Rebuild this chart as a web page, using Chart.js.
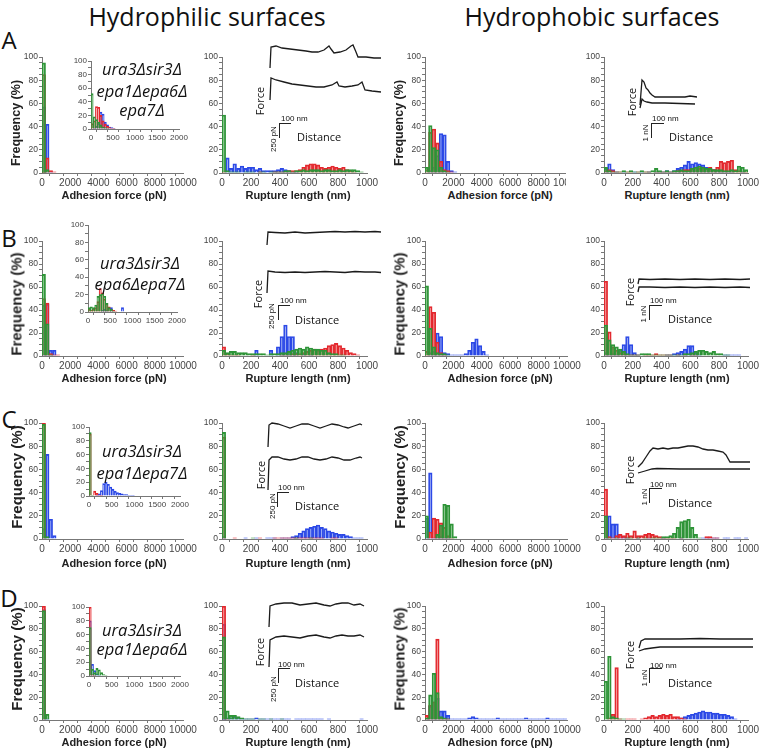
<!DOCTYPE html>
<html>
<head>
<meta charset="utf-8">
<script src="https://cdn.jsdelivr.net/npm/chart.js@4.4.0/dist/chart.umd.min.js"></script>
<style>
  body { margin: 0; width: 760px; height: 750px; position: relative; overflow: hidden; background: #fff; }
  canvas { position: absolute; }
  .txt { position: absolute; white-space: nowrap; color: #111; line-height: 1; }
  .head { font: 25px "Open Sans", sans-serif; }
  .letter { font: 24px "Open Sans", sans-serif; }
  .freq { font-family: "Liberation Sans", Arial, sans-serif; font-weight: bold; color: #222; }
  .xtitle { font: bold 11px "Liberation Sans", Arial, sans-serif; color: #222; }
  .strain { font: italic 16.5px "Open Sans", sans-serif; }
  .small { font: 11px "Open Sans", sans-serif; }
  .tiny { font: 8px "Liberation Sans", Arial, sans-serif; }
  .bar { position: absolute; border-left: 1.3px solid #222; border-top: 1.3px solid #222; }
</style>
</head>
<body>
<script>
// ---- tick labels and bins ----
const adhTickLabels = [0, 2000, 4000, 6000, 8000, 10000];
const rupTickLabels = [0, 200, 400, 600, 800, 1000];
const insetTickLabels = [0, 500, 1000, 1500, 2000];
const freqTickLabels = [0, 20, 40, 60, 80, 100];
const ADH_BIN = 250, RUP_BIN = 25, INSET_BIN = 50;

// ---- row A: ura3Δsir3Δ epa1Δepa6Δ epa7Δ ----
const aPhilAdhRed = [85, 13, 2, 1];
const aPhilAdhGreen = [95, 3];
const aPhilAdhBlue = [57, 42, 1];
const aInsRed = [8, 12, 33, 32, 20, 12, 7, 4, 2, 1, 1];
const aInsGreen = [52, 18, 14, 10, 6, 3, 2, 1];
const aInsBlue = [0, 1, 4, 8, 25, 22, 10, 6, 3, 2, 1];
const aPhilRupRed = [1,0,0,0,0,0,0,0,0,0,1,0,0,0,1,1,1,1,2,2,2,3,5,7,8,8,7,5,4,5,6,5,4,5,3,2,1,0,0,0];
const aPhilRupGreen = [50,2,1,1,1,0,1,1,1,0,1,1,0,1,1,1,1,2,2,1,2,2,3,2,3,3,3,2,3,3,2,2,3,2,3,3,3,2,1,0];
const aPhilRupBlue = [0,13,4,8,4,6,4,5,5,3,4,2,2,2,2,3,4,3,2,1,1];
const aPhobAdhRed = [3, 35, 38, 26, 10, 3, 2, 1];
const aPhobAdhGreen = [5, 41, 22, 20, 5, 2, 1];
const aPhobAdhBlue = [0, 2, 5, 15, 34, 33, 10, 2, 1];
const aPhobRupRed = [2,3,2,1,1,0,1,1,0,1,0,1,1,0,1,1,1,1,1,1,2,2,3,3,4,5,4,5,4,5,3,5,10,9,10,11,3,2,1,1];
const aPhobRupGreen = [5,2,1,1,1,2,1,2,1,1,2,1,1,2,4,2,1,2,1,2,2,3,2,2,4,5,6,5,4,4,3,3,3,2,2,3,2,6,5,3];
const aPhobRupBlue = [4,8,3,1,0,1,0,0,1,0,1,0,1,0,1,1,1,2,1,2,4,5,7,10,8,9,8,7,5,4,3,2,1,1,1,1,0,0,1,0];

// ---- row B: ura3Δsir3Δ epa6Δepa7Δ ----
const bPhilAdhRed = [50, 46, 2, 1, 1];
const bPhilAdhGreen = [71, 28, 1];
const bPhilAdhBlue = [44, 45, 5, 5];
const bInsRed = [3, 2, 3, 5, 12, 27, 22, 15, 10, 6, 3, 2, 1];
const bInsGreen = [5, 6, 5, 8, 18, 20, 21, 18, 10, 5, 3, 1];
const bInsBlue = [0, 0, 0, 0, 0, 0, 2, 3, 2, 0, 5, 0, 0, 0, 0, 5];
const bPhilRupRed = [8,2,1,1,1,0,0,0,1,0,0,0,0,0,0,0,1,1,1,2,2,2,3,4,5,6,5,6,7,9,10,11,9,7,5,3,2,1,0,0];
const bPhilRupGreen = [5,3,4,4,3,3,3,2,2,2,2,2,1,2,2,2,3,3,4,5,6,7,6,8,7,6,6,5,5,3,2,2,1,1];
const bPhilRupBlue = [0,0,0,0,0,0,0,0,0,5,0,0,0,5,0,8,17,27,17,17,3,0,2,0,1];
const bPhobAdhRed = [4, 43, 38, 12, 3, 1];
const bPhobAdhGreen = [61, 24, 8, 3, 2, 2, 1];
const bPhobAdhBlue = [0,3,4,20,17,3,2,1,1,1,1,2,5,12,15,9,4,1];
const bPhobRupRed = [65,21,8,5,3,2,1,1,1,1,0,1,1,1,2,1,1,1,1,0,1,0,1,0,1,1];
const bPhobRupGreen = [27,14,10,8,6,4,2,1,1,1,2,2,2,1,1,1,1,1,1,1,1,1,2,2,3,4,5,5,4,3,4,2,2,1,1];
const bPhobRupBlue = [3,1,2,1,5,10,17,10,3,1,0,0,0,0,0,0,0,1,1,2,3,4,6,9,9,3,1,0,0,0,0,0,0,1,1,1,1,1];

// ---- row C: ura3Δsir3Δ epa1Δepa7Δ ----
const cPhilAdhRed = [100];
const cPhilAdhGreen = [99, 2];
const cPhilAdhBlue = [9, 73, 17, 3];
const cInsRed = [90, 0, 7, 4, 1, 1];
const cInsGreen = [92, 1];
const cInsBlue = [0,0,0,1,3,8,18,20,17,13,10,7,5,4,3,2,2,1,1,1];
const cPhilRupRed = [88,0,0,1,0,0,0,0,0,0,1,0,0,0,1,1,1,1,1,1,1,1,1,1,1,1,1,1,0,0,1,1];
const cPhilRupGreen = [92,0,0,0,0,0,0,0,1,0,0,0,0,0,0,0,0,0,0,0,1,0,0,0,1];
const cPhilRupBlue = [2,0,0,0,0,0,1,0,0,1,0,0,1,1,1,0,1,1,1,2,3,5,7,9,10,11,12,10,9,7,6,5,4,4,3,2,1,1,1,0];
const cPhobAdhRed = [0, 6, 18, 17, 14, 10, 3, 1];
const cPhobAdhGreen = [20, 0, 0, 4, 12, 30, 29, 13, 2];
const cPhobAdhBlue = [18, 57, 1, 4, 2, 1, 1];
const cPhobRupRed = [43,2,1,3,4,3,5,3,7,3,3,4,5,4,3,2,1,1,1,1,0,1,0,0,0,0,0,0,2,2,1,1];
const cPhobRupGreen = [20,1,0,1,0,0,1,1,0,1,0,1,0,1,1,1,2,2,3,5,10,15,16,17,10,4,1];
const cPhobRupBlue = [20,20,13,13,4,2,1,0,0,1,0,0,1,0,0,0,1,0,0,0,0,1,0,0,0,0,0,1,1,1,1,1,0,1,1,0,1,1,0,1];

// ---- row D: ura3Δsir3Δ epa1Δepa6Δ ----
const dPhilAdhRed = [100];
const dPhilAdhGreen = [96, 5];
const dPhilAdhBlue = [97, 1];
const dInsRed = [100, 2, 1];
const dInsGreen = [70, 10, 5, 11, 9, 5, 2, 1];
const dInsBlue = [80, 17, 8, 3, 1];
const dPhilRupRed = [100, 1];
const dPhilRupGreen = [73,8,4,4,3,2,1,1,1,0,1,1,0,1,0,0,1];
const dPhilRupBlue = [84,2,2,3,2,1,1,1,1,2,1,1,1,1,1,1,1,1,1,0,1,1,1,1,1,1,1,1,0,1,0,0,0,0,0,0,0,0,1];
const dPhobAdhRed = [4, 13, 16, 71, 2, 1, 1];
const dPhobAdhGreen = [2, 22, 41, 24, 3, 2, 1];
const dPhobAdhBlue = [1,12,16,19,8,8,4,1,1,1,1,1,2,3,2,1,1,1,1,1,2,1,1,1,1,1,1,1,2,1,1,1,1,1,2,1,1,1,1,1];
const dPhobRupRed = [0,2,5,46,1,0,1,1,1,0,1,2,3,4,3,4,5,4,5,3,3,2,1];
const dPhobRupGreen = [34, 56, 3, 2, 1, 1];
const dPhobRupBlue = [0,0,0,0,0,0,0,0,0,0,0,0,0,0,0,0,0,0,0,0,1,2,3,4,5,6,7,8,7,7,6,6,5,5,4,3,1];

// ---- force-distance traces: [distance nm, force pN] ----
const aPhilTraceTop = [[40,740],[50,1160],[100,1180],[160,1140],[240,1120],[320,1100],[400,1080],[460,1060],[520,1060],[580,1100],[630,1180],[650,1120],[680,1040],[740,1060],[800,1100],[850,1180],[870,1200],[900,1060],[920,960],[1000,960],[1080,940],[1150,940]];
const aPhilTraceLow = [[40,100],[50,540],[100,500],[180,460],[260,420],[340,400],[420,380],[500,360],[580,360],[660,400],[710,460],[730,380],[790,360],[860,380],[920,400],[960,460],[990,300],[1060,280],[1150,260]];
const bPhilTraceTop = [[30,1100],[40,1360],[110,1350],[210,1340],[310,1360],[410,1340],[510,1350],[610,1360],[710,1370],[810,1360],[910,1370],[1010,1360],[1110,1370],[1170,1360]];
const bPhilTraceLow = [[30,140],[40,580],[110,560],[210,550],[310,560],[410,550],[510,560],[610,570],[710,560],[810,550],[910,570],[1010,560],[1110,560],[1170,550]];
const cPhilTraceTop = [[40,1360],[50,1800],[80,1840],[140,1820],[200,1780],[260,1740],[320,1780],[380,1820],[440,1820],[500,1780],[560,1740],[620,1780],[680,1820],[740,1800],[800,1760],[840,1740],[900,1780],[960,1820],[980,1800]];
const cPhilTraceLow = [[40,500],[50,1100],[80,1160],[140,1160],[200,1120],[260,1100],[320,1120],[380,1160],[440,1160],[500,1120],[560,1100],[620,1120],[680,1160],[740,1140],[800,1100],[860,1100],[920,1140],[960,1160],[980,1140]];
const dPhilTraceTop = [[50,960],[60,1380],[120,1420],[200,1440],[280,1440],[360,1400],[440,1420],[520,1440],[600,1400],[660,1380],[720,1420],[780,1440],[840,1440],[900,1400],[960,1420],[1000,1380]];
const dPhilTraceLow = [[50,160],[60,700],[120,760],[200,780],[280,760],[360,740],[440,780],[520,800],[600,760],[660,740],[720,780],[780,800],[840,780],[900,780],[960,800],[1000,760]];
const aPhobTraceTop = [[40,700],[60,2450],[80,2310],[100,1890],[120,1750],[140,1540],[160,1400],[190,1260],[290,1260],[390,1260],[490,1260],[540,1330],[610,1260]];
const aPhobTraceLow = [[40,490],[60,1120],[80,980],[110,910],[160,840],[290,840],[440,805],[590,770]];
const bPhobTraceTop = [[20,1120],[30,1470],[140,1435],[290,1470],[440,1435],[590,1470],[740,1435],[890,1470],[1040,1435],[1140,1470]];
const bPhobTraceLow = [[20,560],[30,910],[140,910],[290,875],[440,910],[590,875],[740,910],[890,875],[1040,910],[1140,875]];
const cPhobTraceTop = [[20,910],[60,1190],[100,1610],[140,2030],[170,2240],[220,2170],[270,2240],[320,2170],[370,2240],[420,2240],[470,2310],[520,2380],[570,2380],[620,2310],[670,2170],[720,2100],[770,2100],[820,2030],[870,1960],[900,1750],[940,1260],[1040,1260],[1140,1260]];
const cPhobTraceLow = [[20,490],[90,630],[160,770],[210,805],[440,770],[640,770],[1140,770]];
const dPhobTraceTop = [[30,840],[50,1330],[90,1470],[240,1470],[440,1470],[640,1505],[840,1470],[1040,1470],[1170,1470]];
const dPhobTraceLow = [[30,630],[90,770],[160,840],[240,910],[640,910],[1170,910]];

// ---- layout ----
const COLS = [{l: 42, r: 183}, {l: 222, r: 367}, {l: 425, r: 567}, {l: 604, r: 748}];
const ROWS = [{t: 57, b: 173}, {t: 241, b: 356}, {t: 423, b: 539}, {t: 606, b: 720}];
const INSETS = [{l: 91, r: 179, t: 61, b: 129}, {l: 88, r: 177, t: 225, b: 312},
                {l: 89, r: 180, t: 427, b: 496}, {l: 89, r: 180, t: 607, b: 676}];

const RED = '#e3262c', GREEN = '#2d9337', BLUE = '#2a47e6';
const RED_FILL = 'rgba(240,120,120,0.2)', GREEN_FILL = 'rgba(90,180,90,0.2)', BLUE_FILL = 'rgba(110,140,240,0.2)';
Chart.defaults.font.family = '"Liberation Sans", Arial, sans-serif';

function hist(box, xMax, bin, xStep, xLabels, red, green, blue, opt = {}) {
  const padL = opt.padL || 32, padT = 6, padR = opt.padR || 17, padB = opt.padB || 15;
  const w = box.r - box.l, h = box.b - box.t;
  const cv = document.createElement('canvas');
  cv.width = w + padL + padR;
  cv.height = h + padT + padB;
  cv.style.left = (box.l - padL) + 'px';
  cv.style.top = (box.t - padT) + 'px';
  (opt.parent || document.body).appendChild(cv);
  const pts = arr => arr.map((v, i) => ({x: (i + 0.5) * bin, y: v || null}));
  const ds = (arr, line, fill, order) => ({data: pts(arr), borderColor: line, backgroundColor: fill, borderWidth: 1.2, order});
  const axisColor = '#777';
  new Chart(cv, {
    type: 'bar',
    data: {datasets: [ds(red, RED, RED_FILL, 1), ds(green, GREEN, GREEN_FILL, 0), ds(blue, BLUE, BLUE_FILL, 2)]},
    options: {
      responsive: false, animation: false, events: [],
      layout: {padding: {left: 0, top: padT, right: padR, bottom: 0}},
      plugins: {legend: {display: false}, tooltip: {enabled: false}},
      datasets: {bar: {grouped: false, barPercentage: 1, categoryPercentage: 1}},
      scales: {
        x: {
          type: 'linear', min: 0, max: xMax, offset: false,
          grid: {drawOnChartArea: false, tickLength: 3, color: axisColor},
          border: {color: axisColor},
          ticks: {stepSize: xStep, autoSkip: false, maxRotation: 0, padding: 1,
                  font: {size: opt.xFont || 10}, color: '#444',
                  callback: v => xLabels.includes(v) ? v : ''},
          afterFit: s => { s.height = padB; }
        },
        y: {
          min: 0, max: 100,
          grid: {drawOnChartArea: false, tickLength: 3, color: axisColor},
          border: {color: axisColor},
          ticks: {stepSize: opt.yStep || 5, autoSkip: false, padding: 1,
                  font: {size: opt.yFont || 8.5}, color: '#444',
                  callback: v => freqTickLabels.includes(v) ? v : ''},
          afterFit: s => { s.width = padL; }
        }
      }
    }
  });
}

function forceCurve(box, nmPerPx, pNPerPx, traces) {
  const w = box.r - box.l, h = box.b - box.t;
  const cv = document.createElement('canvas');
  cv.width = w; cv.height = h;
  cv.style.left = box.l + 'px'; cv.style.top = box.t + 'px';
  document.body.appendChild(cv);
  new Chart(cv, {
    type: 'line',
    data: {datasets: traces.map(t => ({
      data: t.map(([x, y]) => ({x, y})),
      borderColor: '#1b1b1b', borderWidth: 1.3, pointRadius: 0, tension: 0, fill: false
    }))},
    options: {
      responsive: false, animation: false, events: [],
      layout: {padding: 0},
      plugins: {legend: {display: false}, tooltip: {enabled: false}},
      scales: {
        x: {type: 'linear', display: false, min: 0, max: w * nmPerPx},
        y: {display: false, min: 0, max: h * pNPerPx}
      }
    }
  });
}

function text(str, x, y, cls, opt = {}) {
  const d = document.createElement('div');
  d.className = 'txt ' + cls;
  d.textContent = str;
  d.style.left = x + 'px';
  d.style.top = y + 'px';
  if (opt.size) d.style.fontSize = opt.size + 'px';
  const anchor = opt.left ? 'translate(0,-50%)' : 'translate(-50%,-50%)';
  d.style.transform = anchor + (opt.rot ? ' rotate(-90deg)' : '');
  document.body.appendChild(d);
}

function scaleBar(x, y, w, h) {
  const d = document.createElement('div');
  d.className = 'bar';
  d.style.left = x + 'px'; d.style.top = y + 'px';
  d.style.width = w + 'px'; d.style.height = h + 'px';
  document.body.appendChild(d);
}

// ---- headings ----
text('Hydrophilic surfaces', 207, 16, 'head');
text('Hydrophobic surfaces', 592, 16, 'head');
['A', 'B', 'C', 'D'].forEach((s, i) => text(s, 9, [39, 237, 418, 597][i], 'letter'));

// ---- histograms ----
const rowData = [
  [aPhilAdhRed, aPhilAdhGreen, aPhilAdhBlue, aInsRed, aInsGreen, aInsBlue, aPhilRupRed, aPhilRupGreen, aPhilRupBlue, aPhobAdhRed, aPhobAdhGreen, aPhobAdhBlue, aPhobRupRed, aPhobRupGreen, aPhobRupBlue],
  [bPhilAdhRed, bPhilAdhGreen, bPhilAdhBlue, bInsRed, bInsGreen, bInsBlue, bPhilRupRed, bPhilRupGreen, bPhilRupBlue, bPhobAdhRed, bPhobAdhGreen, bPhobAdhBlue, bPhobRupRed, bPhobRupGreen, bPhobRupBlue],
  [cPhilAdhRed, cPhilAdhGreen, cPhilAdhBlue, cInsRed, cInsGreen, cInsBlue, cPhilRupRed, cPhilRupGreen, cPhilRupBlue, cPhobAdhRed, cPhobAdhGreen, cPhobAdhBlue, cPhobRupRed, cPhobRupGreen, cPhobRupBlue],
  [dPhilAdhRed, dPhilAdhGreen, dPhilAdhBlue, dInsRed, dInsGreen, dInsBlue, dPhilRupRed, dPhilRupGreen, dPhilRupBlue, dPhobAdhRed, dPhobAdhGreen, dPhobAdhBlue, dPhobRupRed, dPhobRupGreen, dPhobRupBlue]
];

// the top-right adhesion axis is cut off in the original, so clip it
const clipA = document.createElement('div');
clipA.style.cssText = 'position:absolute;left:0;top:0;width:566px;height:750px;overflow:hidden;';
document.body.appendChild(clipA);

rowData.forEach((d, r) => {
  const row = ROWS[r];
  const box = c => ({l: COLS[c].l, r: COLS[c].r, t: row.t, b: row.b});
  hist(box(0), 10000, ADH_BIN, 1000, adhTickLabels, d[0], d[1], d[2]);
  hist(box(1), 1000, RUP_BIN, 100, rupTickLabels, d[6], d[7], d[8]);
  hist(box(2), 10000, ADH_BIN, 1000, adhTickLabels, d[9], d[10], d[11], r === 0 ? {parent: clipA} : {});
  hist(box(3), 1000, RUP_BIN, 100, rupTickLabels, d[12], d[13], d[14]);
  hist(INSETS[r], 2000, INSET_BIN, 250, insetTickLabels, d[3], d[4], d[5],
       {padL: 20, padR: 12, padB: 12, xFont: 8, yFont: 8, yStep: 10});

  const fy = [123, 304, 477, 659][r];
  const fs = r === 0 ? 12.5 : 15;
  text('Frequency (%)', 16, fy, 'freq', {rot: true, size: fs});
  text('Frequency (%)', 399, fy, 'freq', {rot: true, size: fs});
  const ty = [195, 378, 563, 742][r];
  text('Adhesion force (pN)', 114, ty, 'xtitle');
  text('Rupture length (nm)', 298, ty, 'xtitle');
  text('Adhesion force (pN)', 500, ty, 'xtitle');
  text('Rupture length (nm)', 677, ty, 'xtitle');
});

// ---- strain names ----
text('ura3Δsir3Δ', 142, 68, 'strain');
text('epa1Δepa6Δ', 142, 90, 'strain');
text('epa7Δ', 142, 109, 'strain');
text('ura3Δsir3Δ', 140, 262, 'strain');
text('epa6Δepa7Δ', 140, 283, 'strain');
text('ura3Δsir3Δ', 142, 450, 'strain');
text('epa1Δepa7Δ', 142, 472, 'strain');
text('ura3Δsir3Δ', 142, 629, 'strain');
text('epa1Δepa6Δ', 142, 648, 'strain');

// ---- force-distance insets ----
forceCurve({l: 266, r: 382, t: 40, b: 105}, 10, 20, [aPhilTraceTop, aPhilTraceLow]);
forceCurve({l: 264, r: 382, t: 225, b: 300}, 10, 20, [bPhilTraceTop, bPhilTraceLow]);
forceCurve({l: 264, r: 364, t: 415, b: 515}, 10, 20, [cPhilTraceTop, cPhilTraceLow]);
forceCurve({l: 264, r: 368, t: 595, b: 675}, 10, 20, [dPhilTraceTop, dPhilTraceLow]);
forceCurve({l: 636, r: 704, t: 70, b: 115}, 10, 70, [aPhobTraceTop, aPhobTraceLow]);
forceCurve({l: 636, r: 752, t: 270, b: 300}, 10, 70, [bPhobTraceTop, bPhobTraceLow]);
forceCurve({l: 636, r: 752, t: 440, b: 480}, 10, 70, [cPhobTraceTop, cPhobTraceLow]);
forceCurve({l: 636, r: 754, t: 630, b: 660}, 10, 70, [dPhobTraceTop, dPhobTraceLow]);

const philKeys = [
  {force: [259, 101], bar: [279, 123], nm: [281, 118], pn: [273, 139], dist: [297, 136]},
  {force: [257, 294], bar: [278, 305], nm: [280, 300], pn: [271, 316], dist: [295, 319]},
  {force: [260, 475], bar: [277, 492], nm: [278, 487], pn: [272, 506], dist: [295, 505]},
  {force: [259, 652], bar: [278, 668], nm: [278, 664], pn: [273, 689], dist: [295, 682]}
];
philKeys.forEach(k => {
  text('Force', k.force[0], k.force[1], 'small', {rot: true});
  scaleBar(k.bar[0], k.bar[1], 11, 14);
  text('100 nm', k.nm[0], k.nm[1], 'tiny', {left: true});
  text('250 pN', k.pn[0], k.pn[1], 'tiny', {rot: true});
  text('Distance', k.dist[0], k.dist[1], 'small', {left: true});
});
const phobKeys = [
  {force: [631, 102], bar: [651, 123], nm: [652, 118], nn: [645, 133], dist: [669, 136]},
  {force: [629, 292], bar: [649, 305], nm: [650, 300], nn: [643, 314], dist: [668, 318]},
  {force: [629, 470], bar: [649, 488], nm: [650, 484], nn: [644, 497], dist: [668, 502]},
  {force: [629, 655], bar: [649, 668], nm: [650, 665], nn: [644, 678], dist: [668, 682]}
];
phobKeys.forEach(k => {
  text('Force', k.force[0], k.force[1], 'small', {rot: true});
  scaleBar(k.bar[0], k.bar[1], 12, 14);
  text('100 nm', k.nm[0], k.nm[1], 'tiny', {left: true});
  text('1 nN', k.nn[0], k.nn[1], 'tiny', {rot: true});
  text('Distance', k.dist[0], k.dist[1], 'small', {left: true});
});
</script>
</body>
</html>
